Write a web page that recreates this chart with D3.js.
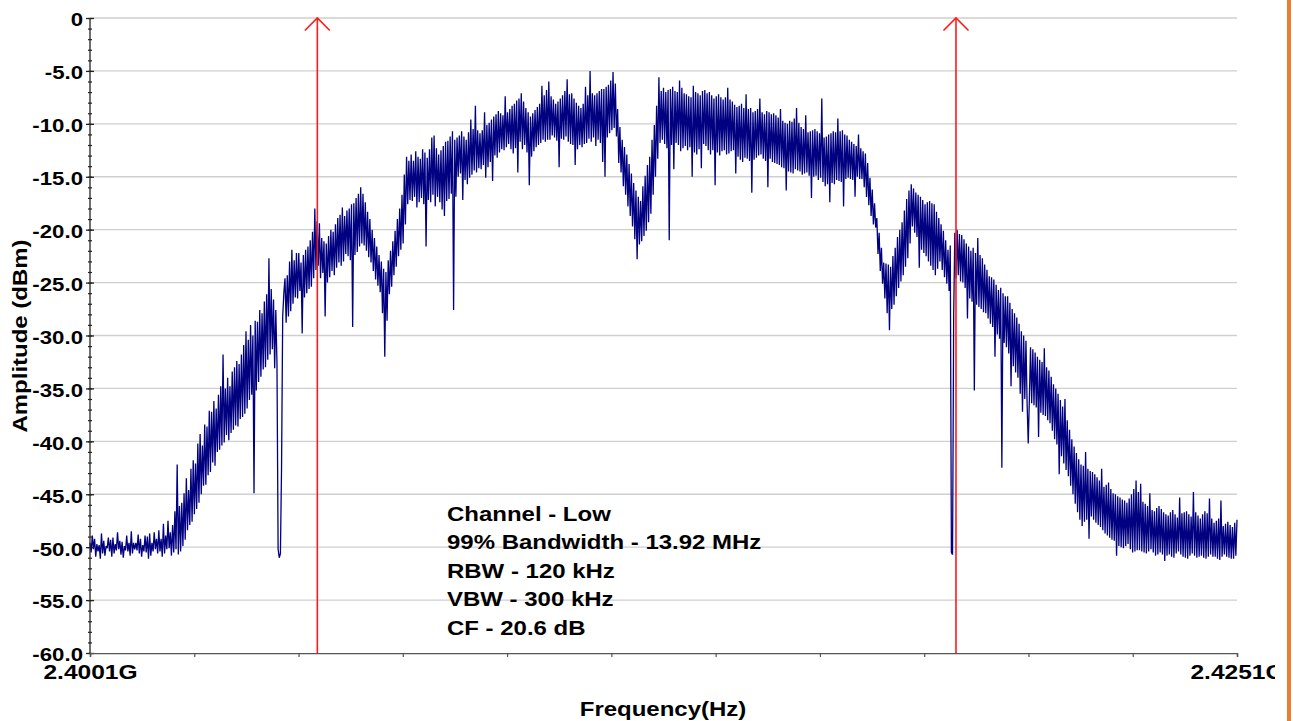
<!DOCTYPE html>
<html>
<head>
<meta charset="utf-8">
<script src="https://cdn.jsdelivr.net/npm/d3@7"></script>
<style>
  html, body { margin: 0; padding: 0; background: #fff; }
  svg { display: block; }
  text { font-family: "Liberation Sans", Arial, Helvetica, sans-serif; font-weight: bold; fill: #000; }
</style>
</head>
<body>
<svg id="chart" width="1293" height="721"></svg>
<script>
// Sweep span of the analyzer trace (GHz)
const sweepStartGHz = 2.4001;
const sweepStopGHz = 2.4251;

// Max-hold trace, dBm, one reading per sweep point (1001 points)
const traceDbm = [
  -49.6,-50.5,-48.9,-50.2,-49.2,-50.9,-49.7,-50.4,-49.8,-51.1,-48.7,-50.6,-49.4,-50.8,-49.9,-50.1,-49.1,-50.4,-49.3,-50.9,
  -49.1,-50.6,-49.7,-50.3,-48.6,-50.2,-49.4,-50.7,-49.5,-51.0,-49.9,-50.3,-48.9,-50.4,-49.6,-50.8,-48.5,-50.6,-49.6,-50.2,
  -49.6,-50.3,-48.8,-50.6,-49.2,-50.9,-49.8,-50.4,-48.9,-50.5,-49.0,-51.1,-48.7,-50.8,-49.6,-50.4,-48.6,-50.2,-49.2,-50.6,
  -48.4,-50.4,-49.2,-50.9,-47.8,-50.6,-48.9,-50.2,-47.5,-50.1,-48.6,-50.8,-47.9,-50.5,-46.6,-50.2,-42.2,-50.7,-46.1,-50.4,
  -45.8,-49.9,-44.9,-49.3,-43.5,-48.4,-44.6,-47.9,-42.6,-47.6,-41.8,-46.9,-42.1,-46.4,-40.2,-45.8,-39.3,-45.0,-40.4,-44.2,
  -38.4,-44.1,-38.6,-43.2,-37.1,-42.9,-37.2,-42.0,-36.2,-42.3,-36.9,-41.0,-35.6,-40.8,-34.8,-40.4,-31.8,-40.1,-35.0,-39.4,
  -34.0,-39.9,-34.8,-39.2,-33.4,-38.9,-33.0,-38.5,-32.4,-38.6,-32.7,-37.9,-31.8,-37.7,-30.9,-37.4,-29.6,-36.9,-30.4,-36.1,
  -29.0,-35.6,-30.0,-44.9,-28.6,-35.2,-28.7,-34.4,-27.6,-33.9,-27.9,-33.2,-26.8,-33.0,-26.1,-32.3,-22.7,-31.8,-25.6,-31.3,
  -26.6,-33.1,-27.6,-32.6,-50.2,-51.0,-50.6,-42.5,-28.2,-26.0,-24.6,-28.8,-24.3,-28.2,-23.0,-27.7,-21.9,-27.0,-22.9,-26.4,
  -22.2,-26.5,-22.2,-25.8,-23.1,-29.8,-22.4,-26.4,-21.9,-26.0,-21.6,-25.6,-21.0,-25.4,-20.2,-24.6,-18.0,-23.8,-19.2,-23.4,
  -19.4,-24.6,-20.8,-24.1,-21.1,-28.2,-21.3,-25.0,-20.6,-24.5,-20.0,-23.9,-20.2,-24.3,-19.5,-23.6,-18.9,-23.1,-18.6,-23.4,
  -17.9,-23.0,-18.7,-22.3,-18.2,-22.5,-18.0,-22.9,-17.6,-29.2,-17.5,-22.4,-17.0,-22.1,-16.6,-21.6,-16.0,-21.3,-16.6,-21.5,
  -17.4,-22.0,-18.3,-22.6,-19.0,-23.1,-20.0,-23.9,-20.8,-24.7,-21.6,-25.3,-22.4,-25.9,-23.0,-27.9,-23.7,-32.0,-24.0,-28.6,
  -22.9,-26.1,-22.0,-25.4,-21.1,-24.3,-20.1,-23.5,-19.0,-22.5,-18.0,-21.9,-16.7,-21.3,-14.8,-19.5,-13.1,-17.6,-13.5,-17.2,
  -12.9,-17.3,-13.5,-16.9,-12.6,-17.9,-13.1,-17.4,-13.3,-17.0,-12.4,-17.6,-12.7,-21.6,-13.2,-17.2,-12.4,-17.4,-11.3,-16.7,
  -11.1,-17.8,-12.3,-16.9,-12.9,-17.4,-12.5,-18.1,-12.1,-18.7,-11.7,-17.3,-11.6,-17.1,-11.2,-16.6,-10.7,-27.6,-11.5,-16.9,
  -11.3,-15.0,-11.1,-14.7,-10.7,-17.2,-11.2,-15.3,-11.5,-15.7,-10.8,-15.1,-9.6,-14.8,-10.5,-14.4,-8.3,-14.6,-10.6,-14.2,
  -10.9,-14.3,-10.6,-13.9,-8.9,-15.1,-10.1,-14.1,-9.9,-13.6,-9.6,-15.4,-9.3,-13.0,-9.1,-13.2,-8.8,-12.7,-9.0,-12.4,
  -9.2,-12.5,-7.4,-12.2,-8.9,-11.9,-8.6,-12.4,-8.3,-12.8,-8.1,-12.3,-7.8,-14.6,-7.6,-11.7,-7.1,-12.4,-7.9,-12.0,
  -8.5,-12.7,-8.9,-15.8,-9.3,-13.1,-9.0,-12.6,-8.7,-12.2,-8.4,-12.0,-8.1,-11.8,-6.4,-11.5,-7.3,-11.7,-6.8,-11.5,
  -6.0,-11.5,-7.4,-11.1,-7.7,-11.3,-8.1,-11.6,-7.9,-14.1,-7.6,-11.4,-7.3,-11.5,-6.9,-11.2,-5.8,-11.7,-7.2,-11.9,
  -7.1,-12.0,-7.6,-13.9,-8.0,-12.4,-8.3,-12.0,-8.5,-12.2,-8.1,-11.9,-6.5,-11.8,-7.3,-11.4,-5.0,-11.7,-7.1,-11.3,
  -7.3,-12.1,-7.1,-11.5,-6.9,-11.8,-6.7,-13.6,-6.7,-15.0,-6.5,-11.3,-6.3,-10.9,-5.9,-10.6,-5.1,-10.4,-6.2,-11.2,
  -8.6,-13.7,-10.3,-14.6,-11.5,-15.9,-12.2,-16.7,-12.9,-17.8,-13.8,-18.7,-14.7,-19.7,-15.6,-20.9,-16.3,-22.8,-16.9,-21.4,
  -17.3,-21.1,-15.9,-20.6,-14.9,-20.1,-13.9,-19.3,-13.1,-18.5,-11.5,-16.7,-10.1,-15.0,-8.3,-13.3,-5.6,-11.8,-6.9,-11.5,
  -6.6,-11.9,-7.0,-12.3,-6.8,-21.0,-6.7,-12.0,-6.5,-14.3,-6.9,-11.8,-7.0,-12.0,-5.9,-12.6,-6.6,-12.3,-7.1,-12.1,
  -7.2,-12.5,-7.4,-12.2,-7.5,-15.0,-6.4,-12.7,-7.0,-12.9,-7.1,-12.4,-7.3,-14.2,-6.9,-11.9,-6.8,-12.1,-7.1,-12.5,
  -7.0,-12.9,-7.3,-12.5,-7.6,-15.8,-7.4,-12.7,-7.2,-13.0,-7.5,-12.6,-7.7,-12.5,-7.5,-12.9,-6.6,-12.8,-7.7,-12.6,
  -7.9,-12.5,-8.2,-14.7,-8.4,-13.1,-8.3,-13.4,-8.1,-13.6,-8.5,-13.2,-7.2,-13.3,-8.6,-13.5,-8.5,-16.5,-8.9,-13.4,
  -8.8,-13.2,-8.6,-13.0,-7.6,-12.9,-8.9,-13.3,-9.1,-13.5,-8.8,-16.0,-8.9,-13.3,-9.1,-13.6,-9.0,-13.7,-9.2,-13.8,
  -9.4,-13.9,-8.6,-14.1,-9.7,-14.2,-9.9,-16.3,-10.0,-14.5,-9.7,-14.6,-9.8,-14.7,-9.5,-14.3,-8.5,-14.4,-9.9,-14.5,
  -10.3,-14.8,-10.5,-14.7,-9.2,-14.6,-10.8,-14.9,-10.7,-17.0,-10.6,-15.0,-10.5,-14.9,-10.7,-15.3,-10.9,-15.1,-7.6,-15.5,
  -11.3,-15.9,-11.2,-15.7,-11.0,-17.4,-10.9,-15.6,-10.7,-15.7,-10.8,-15.3,-9.5,-15.4,-10.7,-15.5,-10.6,-17.8,-11.0,-15.2,
  -11.1,-15.1,-11.5,-15.2,-11.7,-15.3,-11.9,-16.9,-12.1,-15.0,-11.0,-15.2,-12.3,-15.2,-12.6,-16.0,-12.8,-16.9,-13.7,-17.7,
  -15.1,-18.7,-16.2,-19.5,-17.5,-19.8,-18.9,-22.3,-20.3,-23.9,-21.7,-25.1,-23.1,-26.5,-23.2,-27.9,-23.3,-29.5,-23.5,-27.5,
  -22.5,-27.1,-21.7,-26.3,-20.7,-25.5,-20.0,-24.9,-19.3,-24.3,-18.2,-23.5,-17.1,-22.7,-16.3,-21.3,-15.7,-19.7,-16.1,-20.3,
  -16.5,-20.7,-16.7,-23.6,-16.9,-21.9,-17.2,-22.2,-17.6,-22.5,-17.4,-23.0,-17.3,-23.4,-17.5,-23.8,-17.6,-24.3,-18.3,-23.7,
  -18.9,-23.0,-19.5,-23.8,-20.1,-24.5,-21.0,-25.1,-21.9,-25.8,-21.5,-50.5,-50.7,-28.0,-20.3,-24.6,-20.0,-24.3,-20.4,-24.9,
  -20.5,-25.0,-20.9,-25.5,-21.3,-28.4,-21.6,-26.5,-22.0,-26.8,-21.7,-35.2,-22.2,-27.1,-20.8,-27.3,-22.4,-27.5,-22.7,-27.8,
  -23.3,-27.9,-23.8,-28.4,-24.4,-28.9,-24.5,-29.2,-24.7,-32.0,-25.2,-29.9,-25.7,-30.3,-25.5,-42.5,-26.0,-30.7,-26.3,-31.1,
  -26.3,-31.7,-26.9,-34.8,-27.5,-32.9,-27.9,-33.5,-28.3,-34.0,-28.9,-35.5,-29.6,-37.2,-30.0,-36.0,-30.5,-36.4,-40.2,-35.9,
  -31.1,-36.4,-31.3,-36.6,-31.6,-36.8,-32.0,-39.6,-32.3,-37.3,-32.5,-37.5,-31.2,-37.6,-33.0,-38.0,-33.3,-38.3,-33.9,-39.0,
  -34.6,-39.8,-35.0,-40.3,-35.5,-43.1,-36.1,-41.4,-36.7,-42.1,-36.0,-42.7,-38.0,-43.3,-38.9,-44.2,-39.8,-45.0,-40.5,-45.9,
  -41.1,-46.7,-41.7,-47.4,-42.2,-48.0,-42.3,-47.6,-41.0,-47.4,-42.6,-49.2,-42.8,-47.1,-42.9,-47.4,-43.1,-47.7,-43.4,-47.9,
  -43.7,-48.1,-42.6,-48.4,-44.3,-48.7,-44.1,-48.9,-43.9,-49.1,-44.5,-49.3,-44.9,-49.4,-45.0,-50.8,-45.2,-49.9,-45.3,-50.0,
  -45.5,-50.1,-45.6,-49.9,-45.8,-49.7,-45.4,-50.2,-45.0,-50.5,-44.5,-50.4,-43.7,-50.3,-44.8,-50.3,-44.0,-50.4,-45.7,-50.5,
  -45.9,-50.6,-46.1,-50.4,-44.9,-50.2,-46.5,-50.5,-46.6,-50.8,-46.3,-50.7,-46.1,-50.5,-46.4,-50.7,-46.7,-51.3,-46.9,-50.8,
  -47.0,-50.7,-46.7,-50.9,-46.5,-51.0,-46.9,-50.6,-47.2,-50.4,-45.3,-50.7,-46.8,-50.9,-46.7,-51.0,-46.6,-51.1,-46.9,-50.8,
  -47.1,-50.6,-44.8,-50.8,-46.7,-51.0,-47.0,-50.9,-47.3,-50.8,-46.9,-51.0,-46.6,-51.1,-46.8,-50.9,-45.4,-50.7,-47.3,-50.9,
  -47.7,-50.9,-47.5,-51.1,-47.3,-51.2,-45.6,-50.9,-48.0,-50.7,-47.8,-50.9,-47.6,-51.0,-47.9,-51.1,-48.1,-51.1,-47.7,-50.8,
  -47.4
];

// Occupied bandwidth markers
const markerLowGHz = 2.405055;
const occupiedBwMHz = 13.92;

// Amplitude axis
const yTicks = [0, -5, -10, -15, -20, -25, -30, -35, -40, -45, -50, -55, -60];
const yTickLabels = ["0", "-5.0", "-10.0", "-15.0", "-20.0", "-25.0", "-30.0",
                     "-35.0", "-40.0", "-45.0", "-50.0", "-55.0", "-60.0"];

// Frequency axis: 11 divisions, only the span ends are labelled
const xDivisions = 11;
const xTickLabels = ["2.4001G", "", "", "", "", "", "", "", "", "", "", "2.4251G"];

// Measurement settings shown inside the plot
const infoLines = ["Channel - Low", "99% Bandwidth - 13.92 MHz", "RBW - 120 kHz",
                   "VBW - 300 kHz", "CF - 20.6 dB"];

// ---------------------------------------------------------------
const svg = d3.select("#chart");
const plot = { left: 90, top: 18, right: 1237, bottom: 653 };
const textStretch = 1.17;

const x = d3.scaleLinear().domain([sweepStartGHz, sweepStopGHz]).range([plot.left, plot.right]);
const y = d3.scaleLinear().domain([-60, 0]).range([plot.bottom, plot.top]);

const sweepStep = (sweepStopGHz - sweepStartGHz) / (traceDbm.length - 1);
const trace = traceDbm.map((v, i) => ({ f: sweepStartGHz + i * sweepStep, v }));

// clip for the right-hand end label
svg.append("defs").append("clipPath").attr("id", "labelClip")
  .append("rect").attr("x", 0).attr("y", 0).attr("width", 1275).attr("height", 721);

// horizontal grid
svg.append("g")
  .selectAll("line").data(yTicks.filter(t => t > -60)).join("line")
  .attr("x1", plot.left).attr("x2", plot.right)
  .attr("y1", d => y(d)).attr("y2", d => y(d))
  .attr("stroke", "#cfcfcf").attr("stroke-width", 1.4);

// trace
svg.append("path")
  .datum(trace)
  .attr("fill", "none")
  .attr("stroke", "#000080")
  .attr("stroke-width", 1.3)
  .attr("stroke-linejoin", "bevel")
  .attr("d", d3.line().x(d => x(d.f)).y(d => y(d.v)));

// bandwidth markers
const markers = [markerLowGHz, markerLowGHz + occupiedBwMHz / 1000];
const mg = svg.append("g").attr("stroke", "#ff1a1a").attr("fill", "none").attr("stroke-width", 1.6);
mg.selectAll("line").data(markers).join("line")
  .attr("x1", d => x(d)).attr("x2", d => x(d))
  .attr("y1", y(0)).attr("y2", plot.bottom);
mg.selectAll("path").data(markers).join("path")
  .attr("d", d => `M${x(d) - 12.5},${y(0) + 12.5}L${x(d)},${y(0)}L${x(d) + 12.5},${y(0) + 12.5}`);

// y axis: major and minor ticks
const yAxisG = svg.append("g").attr("transform", `translate(${plot.left},0)`)
  .call(d3.axisLeft(y).tickValues(yTicks).tickSize(4)
    .tickFormat((d, i) => yTickLabels[i]));
yAxisG.select(".domain").remove();
yAxisG.selectAll(".tick line").attr("x1", 4).attr("x2", -4).attr("stroke", "#222").attr("stroke-width", 1.3);
yAxisG.selectAll(".tick text")
  .attr("x", 0).attr("dy", null).attr("dominant-baseline", "central")
  .attr("font-size", 19).attr("font-family", null)
  .attr("transform", `translate(-7,1) scale(${textStretch},1)`);
const minorG = svg.append("g").attr("transform", `translate(${plot.left},0)`)
  .call(d3.axisLeft(y).tickValues(d3.range(-60, 1, 1)).tickSize(2).tickFormat(""));
minorG.select(".domain").remove();
minorG.selectAll(".tick line").attr("x1", 2).attr("x2", -2).attr("stroke", "#222").attr("stroke-width", 1.2);
svg.append("line").attr("x1", plot.left).attr("x2", plot.left)
  .attr("y1", plot.top).attr("y2", plot.bottom).attr("stroke", "#222").attr("stroke-width", 1.3);

// x axis
const xTickValues = d3.range(xDivisions + 1).map(k => sweepStartGHz + k * (sweepStopGHz - sweepStartGHz) / xDivisions);
const xAxisG = svg.append("g").attr("transform", `translate(0,${plot.bottom})`)
  .attr("clip-path", "url(#labelClip)")
  .call(d3.axisBottom(x).tickValues(xTickValues).tickSize(4)
    .tickFormat((d, i) => xTickLabels[i]));
xAxisG.select(".domain").attr("stroke", "#555").attr("stroke-width", 1.5);
xAxisG.selectAll(".tick line").attr("y1", -1).attr("y2", 4).attr("stroke", "#555").attr("stroke-width", 1.2);
xAxisG.selectAll(".tick text")
  .attr("y", 0).attr("dy", null)
  .attr("font-size", 21).attr("font-family", null)
  .attr("transform", `translate(0,26) scale(${textStretch},1)`);

// axis titles
svg.append("text")
  .attr("transform", `translate(663,716) scale(${textStretch},1)`)
  .attr("text-anchor", "middle").attr("font-size", 20.5)
  .text("Frequency(Hz)");
svg.append("text")
  .attr("transform", `translate(27,336) rotate(-90) scale(${textStretch},1)`)
  .attr("text-anchor", "middle").attr("font-size", 20.5)
  .text("Amplitude (dBm)");

// measurement settings
svg.append("g").selectAll("text").data(infoLines).join("text")
  .attr("transform", (d, i) => `translate(447,${521 + i * 28.4}) scale(${textStretch},1)`)
  .attr("font-size", 20.5)
  .text(d => d);

// right-hand accent bar
svg.append("rect").attr("x", 1287).attr("y", 0).attr("width", 4).attr("height", 721).attr("fill", "#ed7d31");
</script>
</body>
</html>
